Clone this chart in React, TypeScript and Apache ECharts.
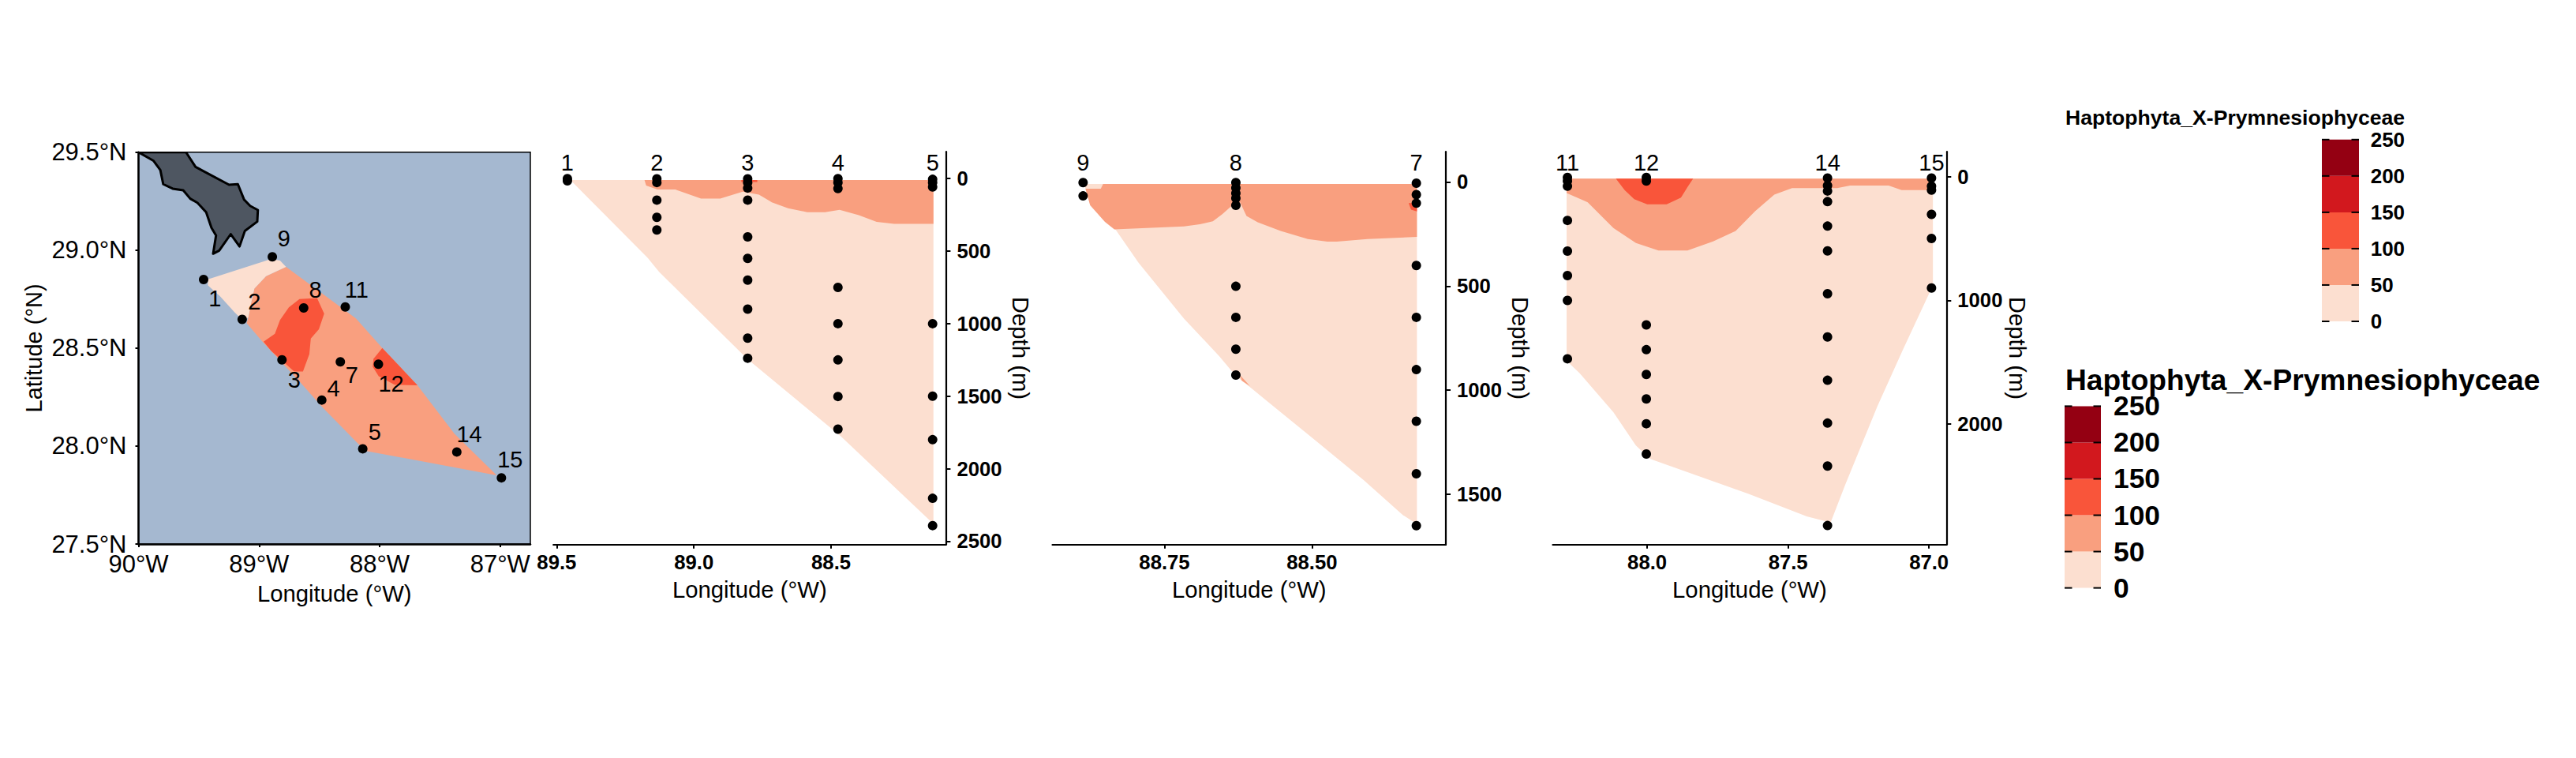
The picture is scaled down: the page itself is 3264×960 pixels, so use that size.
import React, { useEffect, useRef } from "react";
import * as echarts from "echarts";

type P = number[];

const FONT = "Liberation Sans";

const legendBreaks = [0, 50, 100, 150, 200, 250];
const legendColors = ["#FCDFD0", "#F99F7F", "#F9553A", "#D2181E", "#940012"];
const legendTitle = "Haptophyta_X-Prymnesiophyceae";
const [C0, C1, C2] = legendColors;

// ---- map ----
const mapStations = ["1", "2", "3", "4", "5", "7", "8", "9", "11", "12", "14", "15"];
const mapLon = [-89.46, -89.14, -88.81, -88.48, -88.14, -88.326, -88.63, -88.89, -88.285, -88.01, -87.36, -86.99];
const mapLat = [28.85, 28.647, 28.44, 28.235, 27.986, 28.43, 28.705, 28.966, 28.71, 28.418, 27.97, 27.838];
const mapLabelLon = [-89.366, -89.039, -88.709, -88.382, -88.04, -88.23, -88.533, -88.793, -88.192, -87.905, -87.257, -86.918];
const mapLabelLat = [28.753, 28.737, 28.338, 28.294, 28.074, 28.364, 28.796, 29.059, 28.799, 28.318, 28.059, 27.932];
const lonTicks = [-90, -89, -88, -87];
const latTicks = [27.5, 28, 28.5, 29, 29.5];

const land: P[] = [[-90, 29.5], [-89.877, 29.457], [-89.819, 29.409], [-89.795, 29.337], [-89.717, 29.314], [-89.629, 29.306], [-89.571, 29.263], [-89.512, 29.242], [-89.439, 29.194], [-89.395, 29.114], [-89.357, 29.075], [-89.381, 28.982], [-89.331, 28.998], [-89.235, 29.082], [-89.162, 29.019], [-89.118, 29.098], [-89.015, 29.146], [-89.01, 29.205], [-89.074, 29.226], [-89.124, 29.258], [-89.176, 29.337], [-89.249, 29.334], [-89.527, 29.425], [-89.606, 29.5]];
const mapLow: P[] = [[-89.424, 28.851], [-88.899, 28.955], [-88.826, 28.947], [-88.776, 28.915], [-88.942, 28.867], [-89.039, 28.804], [-89.068, 28.724], [-89.089, 28.657], [-89.132, 28.641], [-89.205, 28.684], [-89.322, 28.764], [-89.424, 28.82]];
const mapMid: P[] = [[-88.776, 28.915], [-88.197, 28.652], [-87.978, 28.501], [-87.686, 28.31], [-87.38, 28.063], [-87.029, 27.851], [-88.11, 27.975], [-88.183, 28.015], [-88.475, 28.198], [-88.636, 28.31], [-88.972, 28.533], [-89.103, 28.628], [-89.089, 28.657], [-89.068, 28.724], [-89.039, 28.804], [-88.942, 28.867]];
const mapHighA: P[] = [[-88.753, 28.708], [-88.665, 28.751], [-88.519, 28.756], [-88.46, 28.676], [-88.504, 28.596], [-88.571, 28.549], [-88.583, 28.469], [-88.636, 28.381], [-88.709, 28.381], [-88.899, 28.485], [-88.963, 28.533], [-88.869, 28.573], [-88.826, 28.644]];
const mapHighB: P[] = [[-87.978, 28.501], [-87.686, 28.31], [-87.876, 28.313], [-88.008, 28.357], [-88.057, 28.405], [-88.051, 28.445]];

// ---- section A: stations 1-5 ----
const aNames = ["1", "2", "3", "4", "5"];
const aLon = [89.461, 89.135, 88.804, 88.475, 88.13];
const aDepths = [
  [0, 15],
  [2, 27, 148, 267, 354],
  [2, 27, 65, 148, 402, 550, 700, 900, 1100, 1238],
  [0, 27, 69, 750, 1000, 1250, 1502, 1727],
  [5, 27, 58, 1000, 1500, 1800, 2204, 2392],
];
const aLow: P[] = [[89.45, 10], [89.168, 548], [89.127, 642], [88.804, 1246], [88.464, 1777], [88.127, 2381], [88.127, 10]];
const aMid: P[] = [[89.18, 10], [89.174, 48], [89.133, 75], [89.068, 75], [88.974, 138], [88.904, 138], [88.822, 90], [88.763, 110], [88.716, 163], [88.657, 204], [88.587, 231], [88.522, 231], [88.469, 215], [88.399, 252], [88.334, 298], [88.27, 312], [88.127, 312], [88.127, 10]];
const aHigh: P[] = [[88.827, 10], [88.769, 10], [88.769, 23], [88.827, 23]];
const aLonTicks = [89.5, 89, 88.5];
const aDepthTicks = [0, 500, 1000, 1500, 2000, 2500];

// ---- section B: stations 9, 8, 7 ----
const bNames = ["9", "8", "7"];
const bLon = [88.888, 88.629, 88.323];
const bDepths = [
  [3, 67],
  [3, 29, 54, 78, 112, 501, 650, 803, 927],
  [6, 61, 102, 401, 650, 901, 1149, 1401, 1650],
];
const bLow: P[] = [[88.886, 10], [88.876, 112], [88.832, 232], [88.794, 388], [88.717, 656], [88.657, 837], [88.629, 932], [88.603, 990], [88.493, 1244], [88.412, 1432], [88.346, 1599], [88.322, 1643], [88.322, 10]];
const bMid: P[] = [[88.854, 10], [88.858, 32], [88.884, 32], [88.876, 112], [88.851, 192], [88.835, 228], [88.717, 213], [88.69, 203], [88.668, 189], [88.652, 155], [88.635, 112], [88.622, 97], [88.611, 163], [88.592, 194], [88.553, 235], [88.507, 274], [88.474, 286], [88.458, 286], [88.406, 274], [88.322, 264], [88.322, 10]];
const bHigh: P[] = [[88.336, 102], [88.322, 102], [88.322, 141], [88.332, 133]];
const bSliver: P[] = [[88.622, 927], [88.605, 980], [88.619, 954]];
const bLonTicks = [88.75, 88.5];
const bDepthTicks = [0, 500, 1000, 1500];

// ---- section C: stations 11, 12, 14, 15 ----
const cNames = ["11", "12", "14", "15"];
const cLon = [88.283, 88.003, 87.36, 86.991];
const cDepths = [
  [5, 34, 76, 353, 602, 800, 1001, 1474],
  [5, 34, 1200, 1400, 1601, 1799, 2000, 2245],
  [10, 71, 115, 201, 399, 600, 947, 1297, 1648, 1995, 2343, 2825],
  [10, 76, 108, 304, 499, 901],
];
const cLow: P[] = [[88.286, 15], [88.286, 1491], [88.24, 1589], [88.12, 1907], [88.04, 2176], [87.989, 2286], [87.64, 2568], [87.434, 2751], [87.349, 2800], [87.297, 2494], [87.183, 1858], [87.091, 1393], [87.006, 977], [86.986, 879], [86.986, 15]];
const cMid: P[] = [[88.286, 15], [88.286, 132], [88.211, 206], [88.12, 414], [88.04, 536], [87.96, 597], [87.857, 597], [87.766, 524], [87.686, 438], [87.617, 279], [87.549, 144], [87.486, 91], [87.326, 91], [87.28, 71], [87.143, 71], [87.097, 108], [87.006, 108], [86.986, 47], [86.986, 15]];
const cHigh: P[] = [[88.111, 15], [88.08, 108], [88.046, 181], [88, 223], [87.931, 223], [87.88, 169], [87.857, 83], [87.837, 15]];
const cLonTicks = [88, 87.5, 87];
const cDepthTicks = [0, 1000, 2000];

const polygon = (i: number, pts: P[], fill: string, stroke?: string, lw = 0) => ({
  type: "custom",
  xAxisIndex: i,
  yAxisIndex: i,
  clip: true,
  silent: true,
  data: [pts[0]],
  renderItem: (_: unknown, api: any) => ({
    type: "polygon",
    shape: { points: pts.map((p) => api.coord(p)) },
    style: { fill, stroke: stroke ?? "none", lineWidth: lw, lineJoin: "round" },
  }),
});

const DOT = { symbolSize: 12, itemStyle: { color: "#000", opacity: 1 } };
const txt = { color: "#000", fontFamily: FONT };
const HIDDEN = { symbolSize: 1, itemStyle: { color: "rgba(0,0,0,0)", opacity: 1 } };
const stationLabel = { show: true, position: "inside", formatter: "{b}", ...txt, fontSize: 29, opacity: 1, textBorderWidth: 0 };

function buildOption() {
  const grids: any[] = [];
  const xAxes: any[] = [];
  const yAxes: any[] = [];
  const series: any[] = [];

  // map
  grids.push({
    left: 175.5, top: 192.8, width: 496.5, height: 496.2,
    show: true, backgroundColor: "#A5B8D0", borderColor: "#000", borderWidth: 1.5,
  });
  xAxes.push({
    gridIndex: 0, type: "value", min: -90, max: -86.75, position: "bottom",
    name: "Longitude (°W)", nameLocation: "middle", nameGap: 48,
    nameTextStyle: { ...txt, fontSize: 29.3 },
    axisLine: { onZero: false, lineStyle: { color: "#000", width: 2.5 } },
    axisTick: { customValues: lonTicks, length: 4, lineStyle: { color: "#000", width: 2 } },
    axisLabel: { customValues: lonTicks, ...txt, fontSize: 31, margin: 10, formatter: (v: number) => `${Math.abs(v)}°W` },
    splitLine: { show: false },
  });
  yAxes.push({
    gridIndex: 0, type: "value", min: 27.5, max: 29.5, position: "left",
    name: "Latitude (°N)", nameLocation: "middle", nameGap: 118, nameRotate: 90,
    nameTextStyle: { ...txt, fontSize: 29 },
    axisLine: { onZero: false, lineStyle: { color: "#000", width: 2.5 } },
    axisTick: { customValues: latTicks, length: 4, lineStyle: { color: "#000", width: 2 } },
    axisLabel: { customValues: latTicks, ...txt, fontSize: 31, margin: 15, formatter: (v: number) => `${v.toFixed(1)}°N` },
    splitLine: { show: false },
  });
  series.push(
    polygon(0, land, "#4E5661", "#000", 3),
    polygon(0, mapMid, C1),
    polygon(0, mapLow, C0),
    polygon(0, mapHighA, C2),
    polygon(0, mapHighB, C2),
    {
      type: "scatter", xAxisIndex: 0, yAxisIndex: 0, ...DOT,
      data: mapLon.map((x, k) => [x, mapLat[k]]),
    },
    {
      type: "scatter", xAxisIndex: 0, yAxisIndex: 0, ...HIDDEN,
      data: mapLabelLon.map((x, k) => ({ value: [x, mapLabelLat[k]], name: mapStations[k] })),
      label: stationLabel,
    },
  );

  const section = (
    i: number, left: number, right: number, lonMin: number, lonMax: number, dMin: number, dMax: number,
    names: string[], lons: number[], depths: number[][], labelDepth: number, lonFixed: number,
    lonTickVals: number[], depthTickVals: number[], nameGapR: number, polys: any[],
  ) => {
    grids.push({ left, top: 192.2, width: right - left, height: 497.5 });
    xAxes.push({
      gridIndex: i, type: "value", min: lonMin, max: lonMax, inverse: true, position: "bottom",
      name: "Longitude (°W)", nameLocation: "middle", nameGap: 42,
      nameTextStyle: { ...txt, fontSize: 29.3 },
      axisLine: { onZero: false, lineStyle: { color: "#000", width: 2.2 } },
      axisTick: { customValues: lonTickVals, length: 5, lineStyle: { color: "#000", width: 2 } },
      axisLabel: { customValues: lonTickVals, ...txt, fontSize: 25.7, fontWeight: "bold", margin: 9.6, formatter: (v: number) => v.toFixed(lonFixed) },
      splitLine: { show: false },
    });
    yAxes.push({
      gridIndex: i, type: "value", min: dMin, max: dMax, inverse: true, position: "right",
      name: "Depth (m)", nameLocation: "middle", nameGap: nameGapR, nameRotate: -90,
      nameTextStyle: { ...txt, fontSize: 29.3 },
      axisLine: { onZero: false, lineStyle: { color: "#000", width: 2.2 } },
      axisTick: { customValues: depthTickVals, length: 6, lineStyle: { color: "#000", width: 2 } },
      axisLabel: { customValues: depthTickVals, ...txt, fontSize: 25.7, fontWeight: "bold", margin: 14, formatter: (v: number) => String(v) },
      splitLine: { show: false },
    });
    series.push(...polys);
    const pts: number[][] = [];
    lons.forEach((x, k) => depths[k].forEach((d) => pts.push([x, d])));
    series.push(
      { type: "scatter", xAxisIndex: i, yAxisIndex: i, ...DOT, data: pts },
      {
        type: "scatter", xAxisIndex: i, yAxisIndex: i, ...HIDDEN,
        data: lons.map((x, k) => ({ value: [x, labelDepth], name: names[k] })),
        label: stationLabel,
      },
    );
  };

  section(1, 701.2, 1198.4, 88.082, 89.512, -185, 2523, aNames, aLon, aDepths, -108, 1, aLonTicks, aDepthTicks, 81,
    [polygon(1, aLow, C0), polygon(1, aMid, C1), polygon(1, aHigh, C2)]);
  section(2, 1333.5, 1832, 88.273, 88.94, -145, 1741, bNames, bLon, bDepths, -91, 2, bLonTicks, bDepthTicks, 80,
    [polygon(2, bLow, C0), polygon(2, bMid, C1), polygon(2, bHigh, C2), polygon(2, bSliver, C1)]);
  section(3, 1967.5, 2466.3, 86.938, 88.335, -203, 2979, cNames, cLon, cDepths, -113, 1, cLonTicks, cDepthTicks, 76,
    [polygon(3, cLow, C0), polygon(3, cMid, C1), polygon(3, cHigh, C2)]);

  // legends
  const graphic: any[] = [];
  const legend = (titleSize: number, titleY: number, barL: number, barR: number, top: number, bottom: number, labelX: number, labelSize: number) => {
    graphic.push({
      type: "text", x: 2617, y: titleY,
      style: { text: legendTitle, fontFamily: FONT, fontWeight: "bold", fontSize: titleSize, fill: "#000", verticalAlign: "middle", align: "left" },
    });
    const step = (bottom - top) / legendColors.length;
    legendColors.forEach((c, k) => {
      graphic.push({
        type: "rect",
        shape: { x: barL, y: bottom - step * (k + 1), width: barR - barL, height: step },
        style: { fill: c },
      });
    });
    legendBreaks.forEach((b, k) => {
      const yy = bottom - step * k;
      graphic.push(
        { type: "rect", z: 5, shape: { x: barL, y: yy - 1, width: 9.5, height: 2 }, style: { fill: "#000" } },
        { type: "rect", z: 5, shape: { x: barR - 9.5, y: yy - 1, width: 9.5, height: 2 }, style: { fill: "#000" } },
        {
          type: "text", x: labelX, y: yy,
          style: { text: String(b), fontFamily: FONT, fontWeight: "bold", fontSize: labelSize, fill: "#000", verticalAlign: "middle", align: "left" },
        },
      );
    });
  };
  legend(26.6, 148.6, 2942, 2989, 176.8, 407, 3003.7, 26);
  legend(37.2, 480.7, 2616, 2662, 514.4, 744.6, 2678, 35.4);

  return { animation: false, backgroundColor: "#fff", grid: grids, xAxis: xAxes, yAxis: yAxes, series, graphic };
}

export default function App() {
  const ref = useRef<HTMLDivElement>(null);
  useEffect(() => {
    document.body.style.margin = "0";
    document.body.style.overflow = "hidden";
    const chart = echarts.init(ref.current!, null, { renderer: "svg" });
    chart.setOption(buildOption() as any);
    return () => chart.dispose();
  }, []);
  return <div ref={ref} style={{ position: "absolute", left: 0, top: 0, width: 3264, height: 960 }} />;
}
